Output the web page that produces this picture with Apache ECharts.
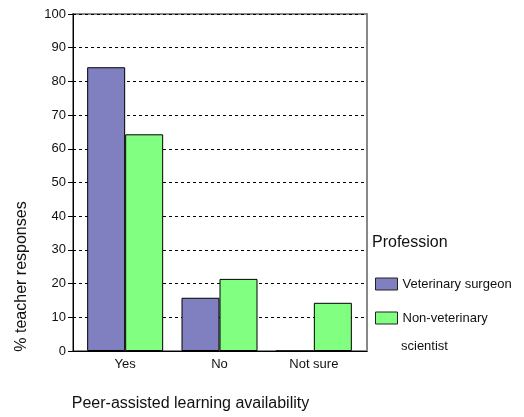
<!DOCTYPE html>
<html>
<head>
<meta charset="utf-8">
<script src="https://cdn.jsdelivr.net/npm/echarts@6/dist/echarts.min.js"></script>
<style>
html,body{margin:0;padding:0;background:#fff;}
#chart{width:524px;height:417px;}
</style>
</head>
<body>
<div id="chart"></div>
<script>
const categories = ['Yes', 'No', 'Not sure'];
const vetSurgeon = [84.2, 15.8, 0];
const nonVetScientist = [64.3, 21.4, 14.3];
const seriesNames = ['Veterinary surgeon', 'Non-veterinary scientist'];
const yTicks = [0, 100, 10];

const FONT = '"Liberation Sans", Arial, sans-serif';
const chart = echarts.init(document.getElementById('chart'), null, {renderer: 'canvas'});

chart.setOption({
  animation: false,
  backgroundColor: '#fff',
  textStyle: {fontFamily: FONT},
  title: {
    text: 'Profession',
    left: 372, top: 235, padding: 0,
    textStyle: {fontSize: 16, fontWeight: 'normal', color: '#111', fontFamily: FONT}
  },
  legend: {
    data: seriesNames,
    orient: 'vertical',
    left: 375, top: 276,
    padding: 0,
    icon: 'rect',
    itemWidth: 22, itemHeight: 12,
    itemGap: 18,
    itemStyle: {borderWidth: 1, borderColor: '#222'},
    formatter: function (n) { return n === seriesNames[1] ? 'Non-veterinary' : n; },
    textStyle: {fontSize: 13, color: '#111', lineHeight: 16, fontFamily: FONT}
  },
  graphic: [{
    type: 'text', left: 401, top: 340,
    style: {text: 'scientist', fontSize: 13, fill: '#111', fontFamily: FONT}
  }],
  grid: [
    {left: 73, top: 14, width: 294, height: 337, show: true, borderColor: '#888', borderWidth: 2, backgroundColor: 'transparent'},
    {left: 78, top: 14, width: 283, height: 337}
  ],
  xAxis: [
    {
      gridIndex: 0, type: 'value', min: 0, max: 1,
      axisLine: {show: true, lineStyle: {color: '#000', width: 1}},
      axisTick: {show: false}, axisLabel: {show: false}, splitLine: {show: false},
      name: 'Peer-assisted learning availability',
      nameLocation: 'middle', nameGap: 45,
      nameTextStyle: {fontSize: 16, color: '#111', padding: [0, 59, 0, 0], fontFamily: FONT}
    },
    {
      gridIndex: 1, type: 'category', data: categories,
      axisLine: {show: false}, axisTick: {show: false},
      axisLabel: {fontSize: 13, color: '#111', margin: 7, fontFamily: FONT}
    }
  ],
  yAxis: [
    {
      gridIndex: 0, type: 'value', min: yTicks[0], max: yTicks[1], interval: yTicks[2],
      axisLine: {show: true, lineStyle: {color: '#000', width: 1}},
      axisTick: {show: true, length: 5, lineStyle: {color: '#000'}},
      axisLabel: {fontSize: 13, color: '#111', margin: 7, fontFamily: FONT},
      splitLine: {show: true, lineStyle: {color: '#000', type: [3, 3], width: 1}},
      name: '% teacher responses',
      nameLocation: 'middle', nameGap: 43, nameRotate: 90,
      nameTextStyle: {fontSize: 16, color: '#111', padding: [0, 188, 0, 0], fontFamily: FONT}
    },
    {
      gridIndex: 1, type: 'value', min: yTicks[0], max: yTicks[1],
      show: false, splitLine: {show: false}
    }
  ],
  series: [
    {
      name: seriesNames[0], type: 'bar', xAxisIndex: 1, yAxisIndex: 1,
      data: vetSurgeon, barWidth: 38, barGap: '0%',
      itemStyle: {color: '#8080C0', borderColor: '#000', borderWidth: 1}
    },
    {
      name: seriesNames[1], type: 'bar', xAxisIndex: 1, yAxisIndex: 1,
      data: nonVetScientist, barWidth: 38, barGap: '0%',
      itemStyle: {color: '#80FF80', borderColor: '#000', borderWidth: 1}
    }
  ]
});
</script>
</body>
</html>
